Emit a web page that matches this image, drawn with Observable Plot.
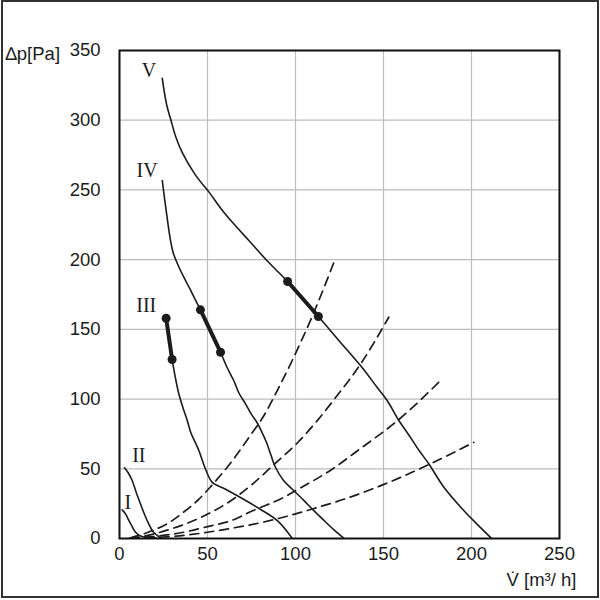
<!DOCTYPE html>
<html>
<head>
<meta charset="utf-8">
<script src="https://cdn.jsdelivr.net/npm/d3@7"></script>
<script src="https://cdn.jsdelivr.net/npm/@observablehq/plot@0.6"></script>
<style>
  html, body { margin: 0; padding: 0; background: #fff; }
  #wrap { position: relative; width: 600px; height: 600px; }
  #border { position: absolute; left: 1px; top: 0; width: 594px; height: 594px; border: 2px solid #333; pointer-events: none; }
  #chart { position: absolute; left: 0; top: 0; }
</style>
</head>
<body>
<div id="wrap"><div id="chart"></div><div id="border"></div></div>
<script>
// Fan characteristic curves: volume flow V̇ [m³/h] vs. pressure Δp [Pa]
const curveI = [[1.5,20.5],[3.5,17.5],[5.3,13],[7,9],[9.1,4.5],[12,1.8],[16,0.8],[21,0.4]];
const curveII = [[2.8,50.7],[5,47],[7.2,41.6],[9.5,33],[11.9,24.9],[14.3,17],[16.6,10.5],[19,5],[21.4,2.2],[23,0.5]];
const curveIII = [[26.5,158],[29.9,128.4],[31.8,115],[33.7,103.8],[36,94],[38.5,84.6],[40.5,76],[45.1,63.1],[48.5,51],[52.6,40.4],[60,35.5],[70,28.5],[80,21],[90,12.5],[98,0.3]];
const curveIV = [[24.3,256.8],[26,240],[27.5,226],[29,213.7],[30.5,205],[34,194],[38.5,182.7],[42,174],[46,164],[51.7,149],[57.4,133.6],[61,123],[64.9,113.3],[68,104],[71.6,96.6],[75,89],[78.2,83],[81,76],[83.5,69],[86,60],[88.6,51.1],[93,42],[99,34.4],[105,27],[110.4,20],[117,12],[122,6],[127.4,0.3]];
const curveV = [[24.3,330],[25.5,320],[27,310],[29,301],[32,288],[35.6,277],[43,261],[51.7,247],[58,236],[64.9,225.7],[73.5,213.7],[84,199],[95.5,184.3],[104,172],[113,159.2],[125,141.5],[136.9,124],[140.7,118],[146,109],[152.1,99],[158.7,84.6],[164,75],[170,63.5],[175.7,53.6],[184.3,36.8],[195.6,20.1],[203,10.5],[211.2,0.3]];

// Operating ranges (thick segments between the two marked points)
const rangeIII = [[26.5,158],[29.9,128.4]];
const rangeIV = [[46,164],[57.4,133.6]];
const rangeV = [[95.5,184.3],[113,159.2]];

// System (duct) resistance curves, dashed
const system1 = [[6,0.3],[8,1.2],[12,2.5],[17.6,5.2],[27,10.5],[36.5,19],[45,28],[52.7,38.5],[63,54],[74.4,74],[82,88],[90,107],[99,130],[110.4,162],[121.8,198]];
const system2 = [[6,0.3],[13.8,1.6],[27.1,6],[46,15],[64.9,28.5],[74.4,37.8],[87.7,53],[101,68.5],[112,84],[121.8,99.5],[136.9,125],[153,158.7]];
const system3 = [[6,0.2],[17.6,1.2],[36.5,4.5],[50,8.5],[64.9,13.5],[74.4,19.2],[93.4,29.6],[101,35],[120,49],[136.9,64.5],[158.7,85.3],[182.4,113.3]];
const system4 = [[6,0.2],[13,0.4],[36.5,2.2],[50,4.5],[64.9,7.6],[74.4,9.8],[101,18],[110.4,21.5],[130,29.2],[150.2,38.8],[175.7,53],[201.3,69]];

const curveNames = ["I", "II", "III", "IV", "V"];
const curveLabelPos = [[4.8,26],[11,59.5],[15.2,167.4],[15.7,264],[16.8,335.7]];

const xTicks = [0, 50, 100, 150, 200, 250];
const yTicks = [0, 50, 100, 150, 200, 250, 300, 350];
const xLabel = "V\u0307 [m\u00b3/ h]";
const yLabel = "\u2206p[Pa]";

const curves = [curveI, curveII, curveIII, curveIV, curveV];
const ranges = [rangeIII, rangeIV, rangeV];
const systems = [system1, system2, system3, system4];
const labels = curveNames.map((name, i) => ({name, x: curveLabelPos[i][0], y: curveLabelPos[i][1]}));

const px = d => d[0], py = d => d[1];
const ink = "#1c1c1c";

const chart = Plot.plot({
  width: 600,
  height: 600,
  marginLeft: 119,
  marginRight: 41,
  marginTop: 50,
  marginBottom: 62,
  style: {fontFamily: "'Liberation Sans', Arial, sans-serif", fontSize: "18.5px", color: ink, background: "transparent"},
  x: {domain: [0, 250], label: null},
  y: {domain: [0, 350], label: null},
  marks: [
    Plot.gridX(xTicks, {stroke: "#bcbcbc", strokeOpacity: 1, strokeWidth: 1.2}),
    Plot.gridY(yTicks, {stroke: "#bcbcbc", strokeOpacity: 1, strokeWidth: 1.2}),
    ...systems.map(s => Plot.line(s, {x: px, y: py, stroke: ink, strokeWidth: 1.7, strokeDasharray: "9,6", curve: "monotone-x"})),
    ...curves.map(c => Plot.line(c, {x: px, y: py, stroke: ink, strokeWidth: 1.6, curve: "catmull-rom"})),
    ...ranges.map(r => Plot.line(r, {x: px, y: py, stroke: ink, strokeWidth: 4, strokeLinecap: "round"})),
    ...ranges.map(r => Plot.dot(r, {x: px, y: py, r: 4.5, fill: ink, stroke: null})),
    Plot.text(labels, {x: "x", y: "y", text: "name", fontFamily: "'Liberation Serif', 'Times New Roman', serif", fontSize: 20, fill: ink}),
    Plot.frame({stroke: "#111", strokeWidth: 2}),
    Plot.axisX(xTicks, {tickSize: 0, tickPadding: 8, label: null}),
    Plot.axisY(yTicks, {tickSize: 0, tickPadding: 19, label: null}),
    Plot.text([xLabel], {x: () => 250, y: () => 0, text: d => d, dx: 17, dy: 42, textAnchor: "end", fill: ink}),
    Plot.text([yLabel], {x: () => 0, y: () => 350, text: d => d, dx: -114, dy: 4, textAnchor: "start", fill: ink})
  ]
});
document.getElementById("chart").appendChild(chart);
</script>
</body>
</html>
